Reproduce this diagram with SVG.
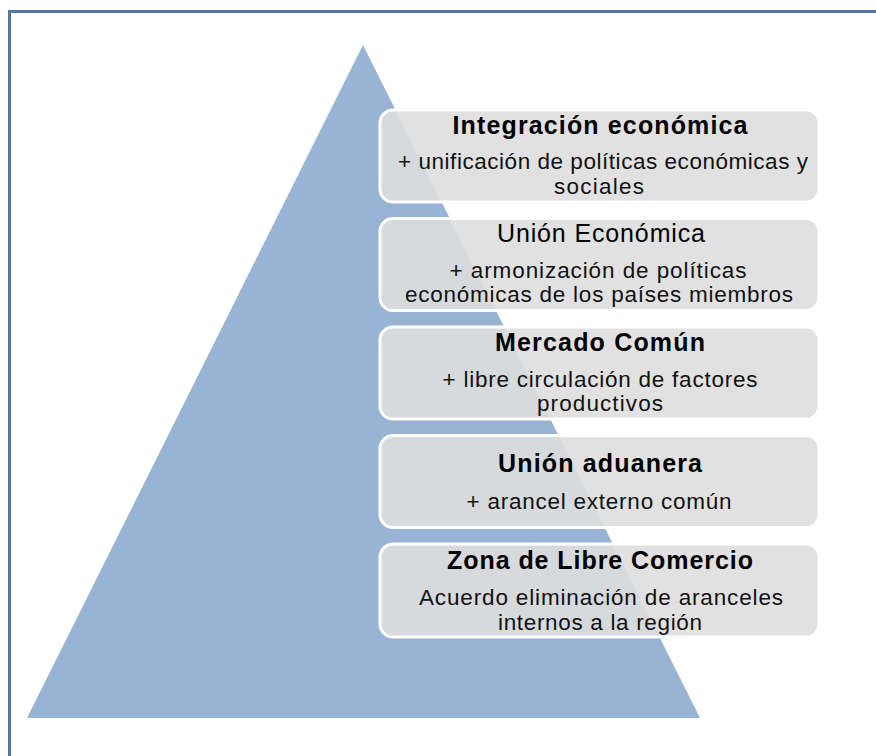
<svg xmlns="http://www.w3.org/2000/svg" width="876" height="756" viewBox="0 0 876 756">
<style>
.box{fill:#dedede;fill-opacity:0.9;stroke:#ffffff;stroke-width:3}
.t{font-family:"Liberation Sans",Arial,sans-serif;font-size:25px;text-anchor:middle;fill:#000}
.b{font-weight:bold}
.s{font-family:"Liberation Sans",Arial,sans-serif;font-size:22.5px;text-anchor:middle;fill:#111}
</style>
<rect width="876" height="756" fill="#ffffff"/>
<path d="M9.5 756 V11.5 H876" fill="none" stroke="#56769f" stroke-width="3"/>
<polygon id="pyramid" points="363,45 27,718 700,718" fill="#98b3d3"/>
<g id="connectors"/>
<g id="n1">
<rect class="box" x="380" y="110" width="439" height="92" rx="13"/>
<text class="t b" x="600" y="134" textLength="295" lengthAdjust="spacing">Integración económica</text>
<text class="s" x="603" y="169" textLength="410" lengthAdjust="spacing">+ unificación de políticas económicas y</text>
<text class="s" x="599" y="194" textLength="90" lengthAdjust="spacing">sociales</text>
</g>
<g id="n2">
<rect class="box" x="380" y="218.5" width="439" height="92" rx="13"/>
<text class="t" x="601" y="242" textLength="208" lengthAdjust="spacing">Unión Económica</text>
<text class="s" x="598" y="278" textLength="297" lengthAdjust="spacing">+ armonización de políticas</text>
<text class="s" x="599" y="302" textLength="388" lengthAdjust="spacing">económicas de los países miembros</text>
</g>
<g id="n3">
<rect class="box" x="380" y="327" width="439" height="92" rx="13"/>
<text class="t b" x="600" y="351" textLength="210" lengthAdjust="spacing">Mercado Común</text>
<text class="s" x="600" y="387" textLength="315" lengthAdjust="spacing">+ libre circulación de factores</text>
<text class="s" x="600" y="411" textLength="126" lengthAdjust="spacing">productivos</text>
</g>
<g id="n4">
<rect class="box" x="380" y="435.5" width="439" height="92" rx="13"/>
<text class="t b" x="600" y="472" textLength="204" lengthAdjust="spacing">Unión aduanera</text>
<text class="s" x="599" y="509" textLength="265" lengthAdjust="spacing">+ arancel externo común</text>
</g>
<g id="n5">
<rect class="box" x="380" y="544" width="439" height="93" rx="13"/>
<text class="t b" x="600" y="569" textLength="306" lengthAdjust="spacing">Zona de Libre Comercio</text>
<text class="s" x="601" y="605" textLength="364" lengthAdjust="spacing">Acuerdo eliminación de aranceles</text>
<text class="s" x="600" y="630" textLength="204" lengthAdjust="spacing">internos a la región</text>
</g>
</svg>
